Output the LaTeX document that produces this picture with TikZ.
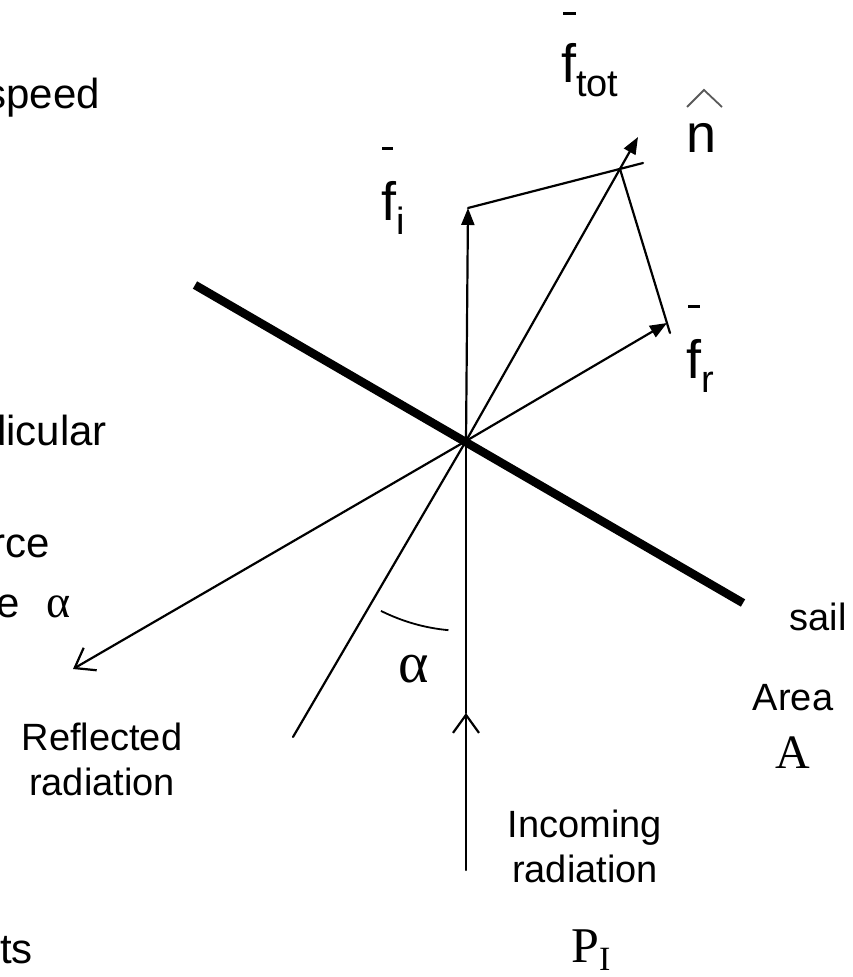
\documentclass[tikz,border=0pt]{standalone}
\usepackage{fontspec}
\newfontfamily\sansf{Liberation Sans}
\newfontfamily\seriff{Liberation Serif}
\usetikzlibrary{arrows.meta}
\tikzset{
  lbl/.style={inner sep=0pt, font=\sansf\fontsize{38}{44}\selectfont},
  leftlbl/.style={inner sep=0pt, font=\sansf\fontsize{42}{48}\selectfont},
  sym/.style={inner sep=0pt, font=\seriff\fontsize{50}{56}\selectfont},
  thinline/.style={line width=2.2pt, line cap=round},
  vec/.style={thinline, -{Triangle[length=17pt,width=13pt]}},
  ray/.style={thinline, -{Straight Barb[length=18pt,width=26pt,line width=2.2pt]}},
  sailline/.style={line width=8.5pt},
  barline/.style={line width=3pt},
}
\newcommand{\bigf}[1]{{\fontsize{54}{60}\selectfont f}\raisebox{-14pt}{\fontsize{38}{44}\selectfont #1}}
\begin{document}
\begin{tikzpicture}[x=1pt,y=-1pt]
\useasboundingbox (0,0) rectangle (852,977);
% key points
\coordinate (O) at (466,441);
\coordinate (sailA) at (195,285);
\coordinate (sailB) at (743,603);
\coordinate (fi) at (468,208);
\coordinate (ftot) at (638,137);
\coordinate (fr) at (667,323);
\coordinate (corner) at (620,169);
\coordinate (topext) at (643,163);
\coordinate (frext) at (670,333);
\coordinate (refl) at (73,669);
\coordinate (nlow) at (293,737);
\coordinate (inbot) at (466,870);
\coordinate (inmid) at (466,713);

% sail
\draw[sailline] (sailA) -- (sailB);
% vectors
\draw[vec] (O) -- (fi);
\draw[vec] (O) -- (ftot);
\draw[vec] (O) -- (fr);
\draw[thinline] (fi) -- (topext);
\draw[thinline] (corner) -- (frext);
% rays
\draw[ray] (O) -- (refl);
\draw[thinline] (O) -- (nlow);
\draw[ray] (inbot) -- (inmid);
\draw[thinline] (inmid) -- (O);
% angle arc
\draw[line width=1.8pt] (O) ++(116.6:190) arc[start angle=116.6, end angle=95.3, radius=190];

% vector labels
\node[lbl, anchor=base west] (lfi) at (381,220) {\bigf{i}};
\draw[barline] (382,148) -- (393,148);
\node[lbl, anchor=base west] (lftot) at (561,82) {\bigf{tot}};
\draw[barline] (563,13) -- (576,13);
\node[lbl, anchor=base west] (lfr) at (686,378) {\bigf{r}};
\draw[barline] (688,306) -- (700,306);
\node[inner sep=0pt, anchor=base west, font=\sansf\fontsize{54}{60}\selectfont] (ln) at (686,152) {n};
\draw[line width=1.8pt, black!65] (687,107) -- (704,90) -- (722,107);

% alpha
\node[sym, anchor=base, font=\seriff\fontsize{58}{64}\selectfont] (lalpha) at (414,682) {α};

% right labels
\node[lbl, anchor=base] (lsail) at (818,630) {sail};
\node[lbl, anchor=base] (larea) at (793,710) {Area};
\node[sym, anchor=base, font=\seriff\fontsize{48}{54}\selectfont] (lA) at (793,768) {A};
\node[lbl, anchor=base] (linc1) at (585,837) {Incoming};
\node[lbl, anchor=base] (linc2) at (585,882) {radiation};
\node[sym, anchor=base west] (lP) at (571,962) {P\raisebox{-8pt}{\fontsize{34}{40}\selectfont I}};
\node[lbl, anchor=base] (lref1) at (102,750) {Reflected};
\node[lbl, anchor=base] (lref2) at (102,795) {radiation};

% cut-off left text
\node[leftlbl, anchor=base east] (lspeed) at (100,108) {speed};
\node[leftlbl, anchor=base east] (lperp) at (107,445) {dicular};
\node[leftlbl, anchor=base east] (lforce) at (50,557) {rce};
\node[leftlbl, anchor=base east] (lang) at (20,617) {e};
\node[sym, anchor=base west, font=\seriff\fontsize{46}{52}\selectfont] (langa) at (46,617) {α};
\node[leftlbl, anchor=base east] (lts) at (33,963) {ts};
\end{tikzpicture}
\end{document}
